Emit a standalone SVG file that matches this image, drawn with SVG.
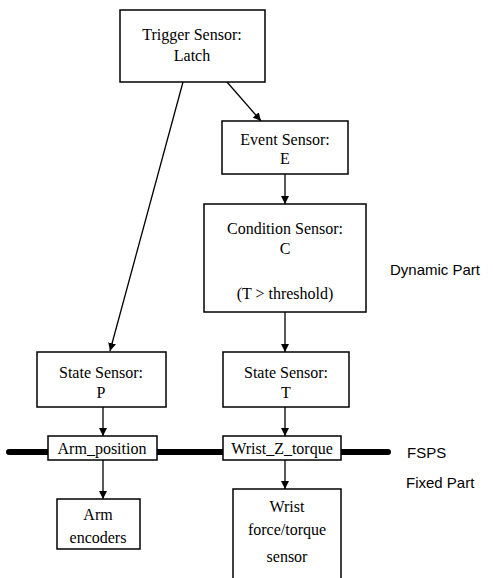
<svg xmlns="http://www.w3.org/2000/svg" width="493" height="578" viewBox="0 0 493 578">
<defs>
<marker id="ah" viewBox="0 0 10 10" refX="10" refY="5" markerWidth="8" markerHeight="8" markerUnits="userSpaceOnUse" orient="auto">
<path d="M0,0 L10,5 L0,10 z" fill="#000"/>
</marker>
<style>
.box{fill:#fff;stroke:#000;stroke-width:1.5}
.t{font-family:"Liberation Serif","Times New Roman",serif;font-size:16px;text-anchor:middle;fill:#000}
.s{font-family:"Liberation Sans",Arial,sans-serif;font-size:15px;fill:#000}
.c{stroke:#000;stroke-width:1.3;fill:none;marker-end:url(#ah)}
</style>
</defs>
<rect width="493" height="578" fill="#fff"/>
<g id="fsps-bar">
<line x1="9" y1="452" x2="388" y2="452" stroke="#000" stroke-width="6" stroke-linecap="round"/>
</g>
<g id="connectors">
<line class="c" x1="183" y1="82" x2="110" y2="351"/>
<line class="c" x1="227" y1="82" x2="261" y2="121"/>
<line class="c" x1="285" y1="174" x2="285" y2="204"/>
<line class="c" x1="285" y1="312" x2="285" y2="352"/>
<line class="c" x1="103" y1="407" x2="103" y2="436"/>
<line class="c" x1="285" y1="407" x2="285" y2="436"/>
<line class="c" x1="103" y1="460" x2="103" y2="499"/>
<line class="c" x1="285" y1="460" x2="285" y2="489"/>
</g>
<g id="trigger">
<rect class="box" x="120" y="10" width="145" height="72"/>
<text class="t" x="192" y="40">Trigger Sensor:</text>
<text class="t" x="192" y="61">Latch</text>
</g>
<g id="event">
<rect class="box" x="222" y="121" width="126" height="53"/>
<text class="t" x="285" y="145">Event Sensor:</text>
<text class="t" x="285" y="164">E</text>
</g>
<g id="condition">
<rect class="box" x="204" y="204" width="162" height="108"/>
<text class="t" x="285" y="234">Condition Sensor:</text>
<text class="t" x="285" y="254">C</text>
<text class="t" x="285" y="299">(T &gt; threshold)</text>
</g>
<g id="stateP">
<rect class="box" x="37" y="352" width="129" height="55"/>
<text class="t" x="101" y="378">State Sensor:</text>
<text class="t" x="101" y="398">P</text>
</g>
<g id="stateT">
<rect class="box" x="223" y="352" width="126" height="55"/>
<text class="t" x="286" y="378">State Sensor:</text>
<text class="t" x="286" y="398">T</text>
</g>
<g id="armpos">
<rect class="box" x="48" y="436" width="109" height="24"/>
<text class="t" x="102" y="454">Arm_position</text>
</g>
<g id="wristz">
<rect class="box" x="223" y="436" width="118" height="24"/>
<text class="t" x="282" y="454">Wrist_Z_torque</text>
</g>
<g id="armenc">
<rect class="box" x="57" y="499" width="83" height="50"/>
<text class="t" x="98" y="520">Arm</text>
<text class="t" x="98" y="543">encoders</text>
</g>
<g id="wristfts">
<rect class="box" x="233" y="489" width="108" height="95"/>
<text class="t" x="287" y="512">Wrist</text>
<text class="t" x="287" y="535">force/torque</text>
<text class="t" x="287" y="562">sensor</text>
</g>
<g id="labels">
<text class="s" x="390" y="275">Dynamic Part</text>
<text class="s" x="407" y="458">FSPS</text>
<text class="s" x="406" y="488">Fixed Part</text>
</g>
</svg>
